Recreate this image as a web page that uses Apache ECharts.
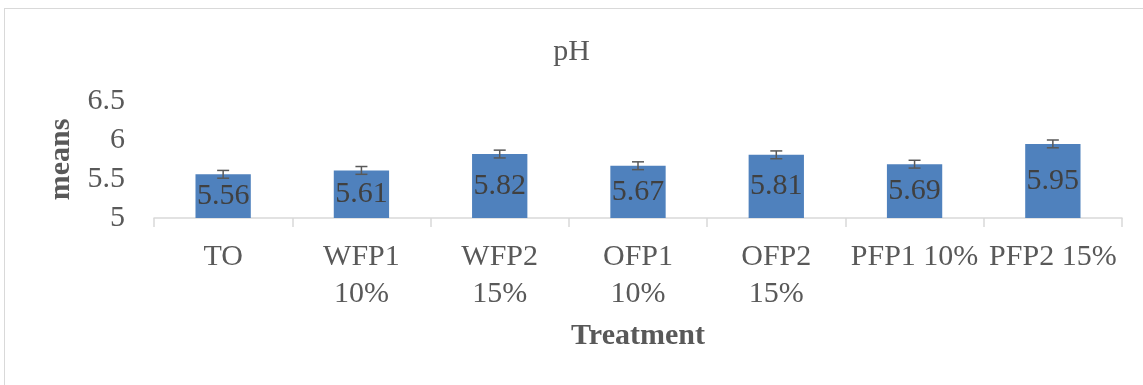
<!DOCTYPE html>
<html>
<head>
<meta charset="utf-8">
<script src="https://cdn.jsdelivr.net/npm/echarts@6/dist/echarts.min.js"></script>
<style>
  html, body { margin: 0; padding: 0; background: #fff; }
  #frame { position: absolute; left: 4px; top: 8px; width: 1145px; height: 380px; border: 1px solid #d9d9d9; box-sizing: border-box; }
  #main { position: absolute; left: 0; top: 0; width: 1143px; height: 385px; }
</style>
</head>
<body>
<div id="frame"></div>
<div id="main"></div>
<script type="text/javascript">
    // 数据
    var categories = ['TO', 'WFP1\n10%', 'WFP2\n15%', 'OFP1\n10%', 'OFP2\n15%', 'PFP1 10%', 'PFP2 15%'];
    var means = [5.56, 5.61, 5.82, 5.67, 5.81, 5.69, 5.95];
    var errors = [0.05, 0.05, 0.05, 0.05, 0.05, 0.05, 0.05];
    var yTicks = [5, 5.5, 6, 6.5];

    var serif = '"Liberation Serif", "Times New Roman", serif';
    var errData = means.map(function (v, i) { return [i, v - errors[i], v + errors[i]]; });

    var myChart = echarts.init(document.getElementById('main'));
    var option = {
        animation: false,
        title: {
            text: 'pH', left: 'center', top: 32,
            textStyle: { fontFamily: serif, fontSize: 30, fontWeight: 'normal', color: '#595959' }
        },
        grid: { left: 154, right: 21, top: 101, bottom: 167 },
        xAxis: {
            type: 'category',
            data: categories,
            name: 'Treatment',
            nameLocation: 'middle',
            nameGap: 103,
            nameTextStyle: { fontFamily: serif, fontSize: 30, fontWeight: 'bold', color: '#595959' },
            axisLine: { lineStyle: { color: '#d9d9d9', width: 1.5 } },
            axisTick: { show: true, length: 9, lineStyle: { color: '#d9d9d9', width: 1.5 } },
            axisLabel: { fontFamily: serif, fontSize: 30, color: '#595959', margin: 21, lineHeight: 37, interval: 0 }
        },
        yAxis: {
            type: 'value',
            min: yTicks[0],
            max: yTicks[yTicks.length - 1],
            interval: 0.5,
            name: 'means',
            nameLocation: 'middle',
            nameGap: 75,
            nameRotate: 90,
            nameTextStyle: { fontFamily: serif, fontSize: 30, fontWeight: 'bold', color: '#595959' },
            axisLine: { show: false },
            axisTick: { show: false },
            splitLine: { show: false },
            axisLabel: { fontFamily: serif, fontSize: 30, color: '#595959', margin: 29 }
        },
        series: [
            {
                type: 'bar',
                data: means,
                barWidth: '40%',
                itemStyle: { color: '#4f81bd' },
                label: {
                    show: true, position: 'inside',
                    fontFamily: serif, fontSize: 30, color: '#404040',
                    formatter: function (p) { return p.value.toFixed(2); }
                },
                z: 2
            },
            {
                type: 'custom',
                data: errData,
                z: 5,
                renderItem: function (params, api) {
                    var x = api.value(0);
                    var lo = api.coord([x, api.value(1)]);
                    var hi = api.coord([x, api.value(2)]);
                    var hw = 6;
                    var st = { stroke: '#595959', lineWidth: 1.5 };
                    return {
                        type: 'group',
                        children: [
                            { type: 'line', shape: { x1: lo[0], y1: lo[1], x2: hi[0], y2: hi[1] }, style: st },
                            { type: 'line', shape: { x1: lo[0] - hw, y1: lo[1], x2: lo[0] + hw, y2: lo[1] }, style: st },
                            { type: 'line', shape: { x1: hi[0] - hw, y1: hi[1], x2: hi[0] + hw, y2: hi[1] }, style: st }
                        ]
                    };
                }
            }
        ]
    };
    myChart.setOption(option);
</script>
</body>
</html>
